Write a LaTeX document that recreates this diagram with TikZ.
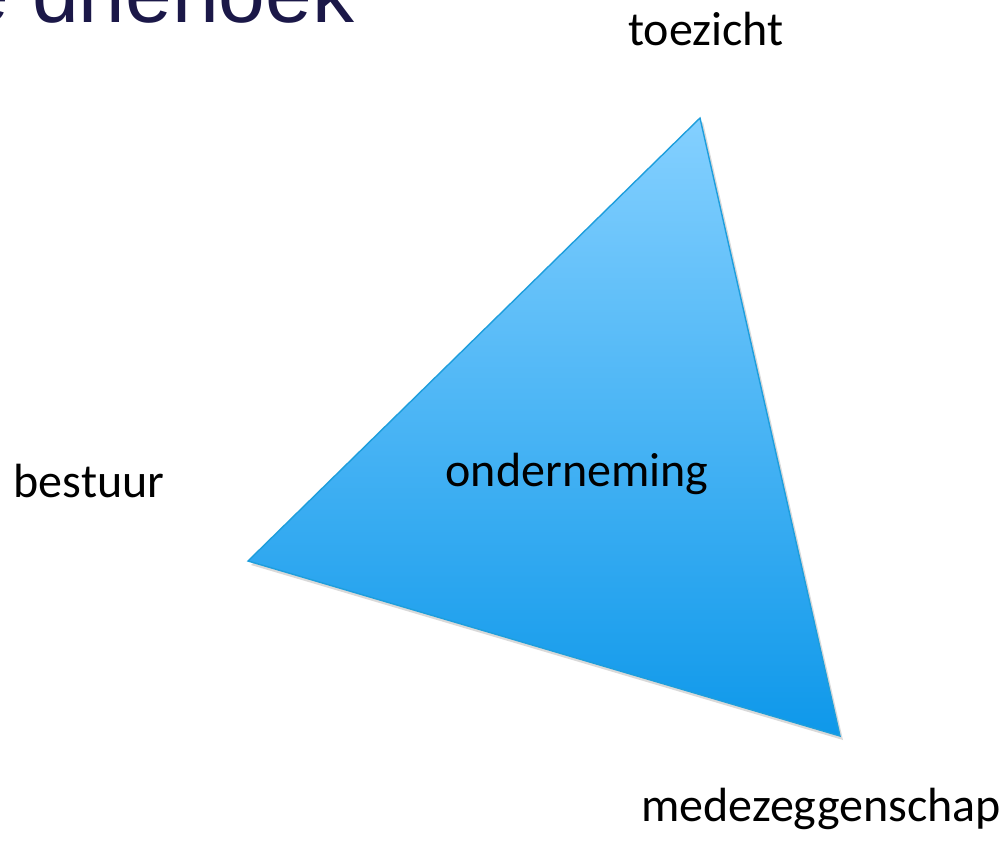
\documentclass[tikz,border=0pt]{standalone}
\usepackage{fontspec}
\setmainfont{Carlito}
\newfontfamily\titlefont{Liberation Sans}
\usetikzlibrary{positioning}
\definecolor{navy}{RGB}{27,24,72}
\definecolor{lightblue}{RGB}{132,208,255}
\definecolor{deepblue}{RGB}{14,152,234}
\definecolor{edgeblue}{RGB}{30,158,220}

\begin{document}
\begin{tikzpicture}[x=1pt,y=-1pt,
        tag/.style={inner sep=0pt, anchor=base, font=\fontsize{48}{58}\selectfont}]
        \useasboundingbox (0,0) rectangle (1007,844);
        \clip (0,0) rectangle (1007,844);

        \node[anchor=base west, inner sep=0pt, text=navy, font=\titlefont\fontsize{84}{100}\selectfont](title) at (-38,22) {e driehoek};

        \coordinate (apex) at (700,118);
        \coordinate (lcorner) at (248,561);
        \coordinate (rcorner) at (840,736);

        \fill[black, opacity=0.15] ([shift={(3,4)}]apex) -- ([shift={(3,4)}]lcorner) -- ([shift={(3,4)}]rcorner) -- cycle;
        \shade[top color=lightblue, bottom color=deepblue, draw=edgeblue, line width=1.4pt] (apex) -- (lcorner) -- (rcorner) -- cycle;

        \node[tag](toezicht) at (706,45) {toezicht};
        \node[tag](bestuur) at (89,497) {bestuur};
        \node[tag](onderneming) at (577,486) {onderneming};
        \node[tag](medezeggenschap) at (821,821) {medezeggenschap};
    \end{tikzpicture}
\end{document}
